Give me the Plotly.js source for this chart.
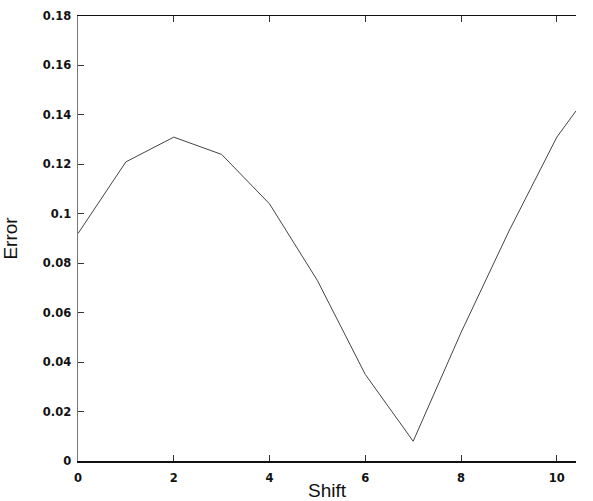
<!DOCTYPE html>
<html>
<head>
<meta charset="utf-8">
<script src="https://cdn.plot.ly/plotly-3.0.1.min.js"></script>
<style>
  html, body { margin: 0; padding: 0; background: #fff; }
  #chart { width: 593px; height: 501px; }
</style>
</head>
<body>
<div id="chart"></div>
<script>
// shift vs. error
var shift = [0, 1, 2, 3, 4, 5, 6, 7, 8, 9, 10, 10.4];
var error = [0.092, 0.121, 0.131, 0.124, 0.104, 0.073, 0.035, 0.008, 0.052, 0.093, 0.131, 0.1416];

var xTicks = [0, 2, 4, 6, 8, 10];
var yTicks = [0, 0.02, 0.04, 0.06, 0.08, 0.1, 0.12, 0.14, 0.16, 0.18];
var yTickText = ['0', '0.02', '0.04', '0.06', '0.08', '0.1', '0.12', '0.14', '0.16', '0.18'];

var trace = {
  x: shift,
  y: error,
  type: 'scatter',
  mode: 'lines',
  line: { color: '#444', width: 1 },
  hoverinfo: 'x+y'
};

var tickFont = { family: 'DejaVu Sans, Arial, sans-serif', size: 11.5, color: '#111', weight: 'bold' };
var titleFont = { family: 'Liberation Sans, Arial, sans-serif', size: 19, color: '#111' };

var layout = {
  width: 593,
  height: 501,
  margin: { l: 78, r: 17, t: 16, b: 40 },
  paper_bgcolor: '#fff',
  plot_bgcolor: '#fff',
  showlegend: false,
  xaxis: {
    range: [0, 10.4],
    tickvals: xTicks,
    ticks: 'inside',
    ticklen: 6,
    tickcolor: '#333',
    ticklabelstandoff: 6,
    showline: true,
    linecolor: '#111',
    linewidth: 1.5,
    mirror: 'ticks',
    showgrid: false,
    zeroline: false,
    tickfont: tickFont,
    title: { text: 'Shift', font: titleFont, standoff: 16 }
  },
  yaxis: {
    range: [0, 0.18],
    tickvals: yTicks,
    ticktext: yTickText,
    ticks: 'inside',
    ticklen: 6,
    tickcolor: '#333',
    ticklabelstandoff: 3,
    showline: true,
    linecolor: '#777',
    linewidth: 1.5,
    mirror: false,
    showgrid: false,
    zeroline: false,
    tickfont: tickFont,
    title: { text: 'Error', font: titleFont, standoff: 26 }
  }
};

Plotly.newPlot('chart', [trace], layout, { displayModeBar: false, staticPlot: true });
</script>
</body>
</html>
